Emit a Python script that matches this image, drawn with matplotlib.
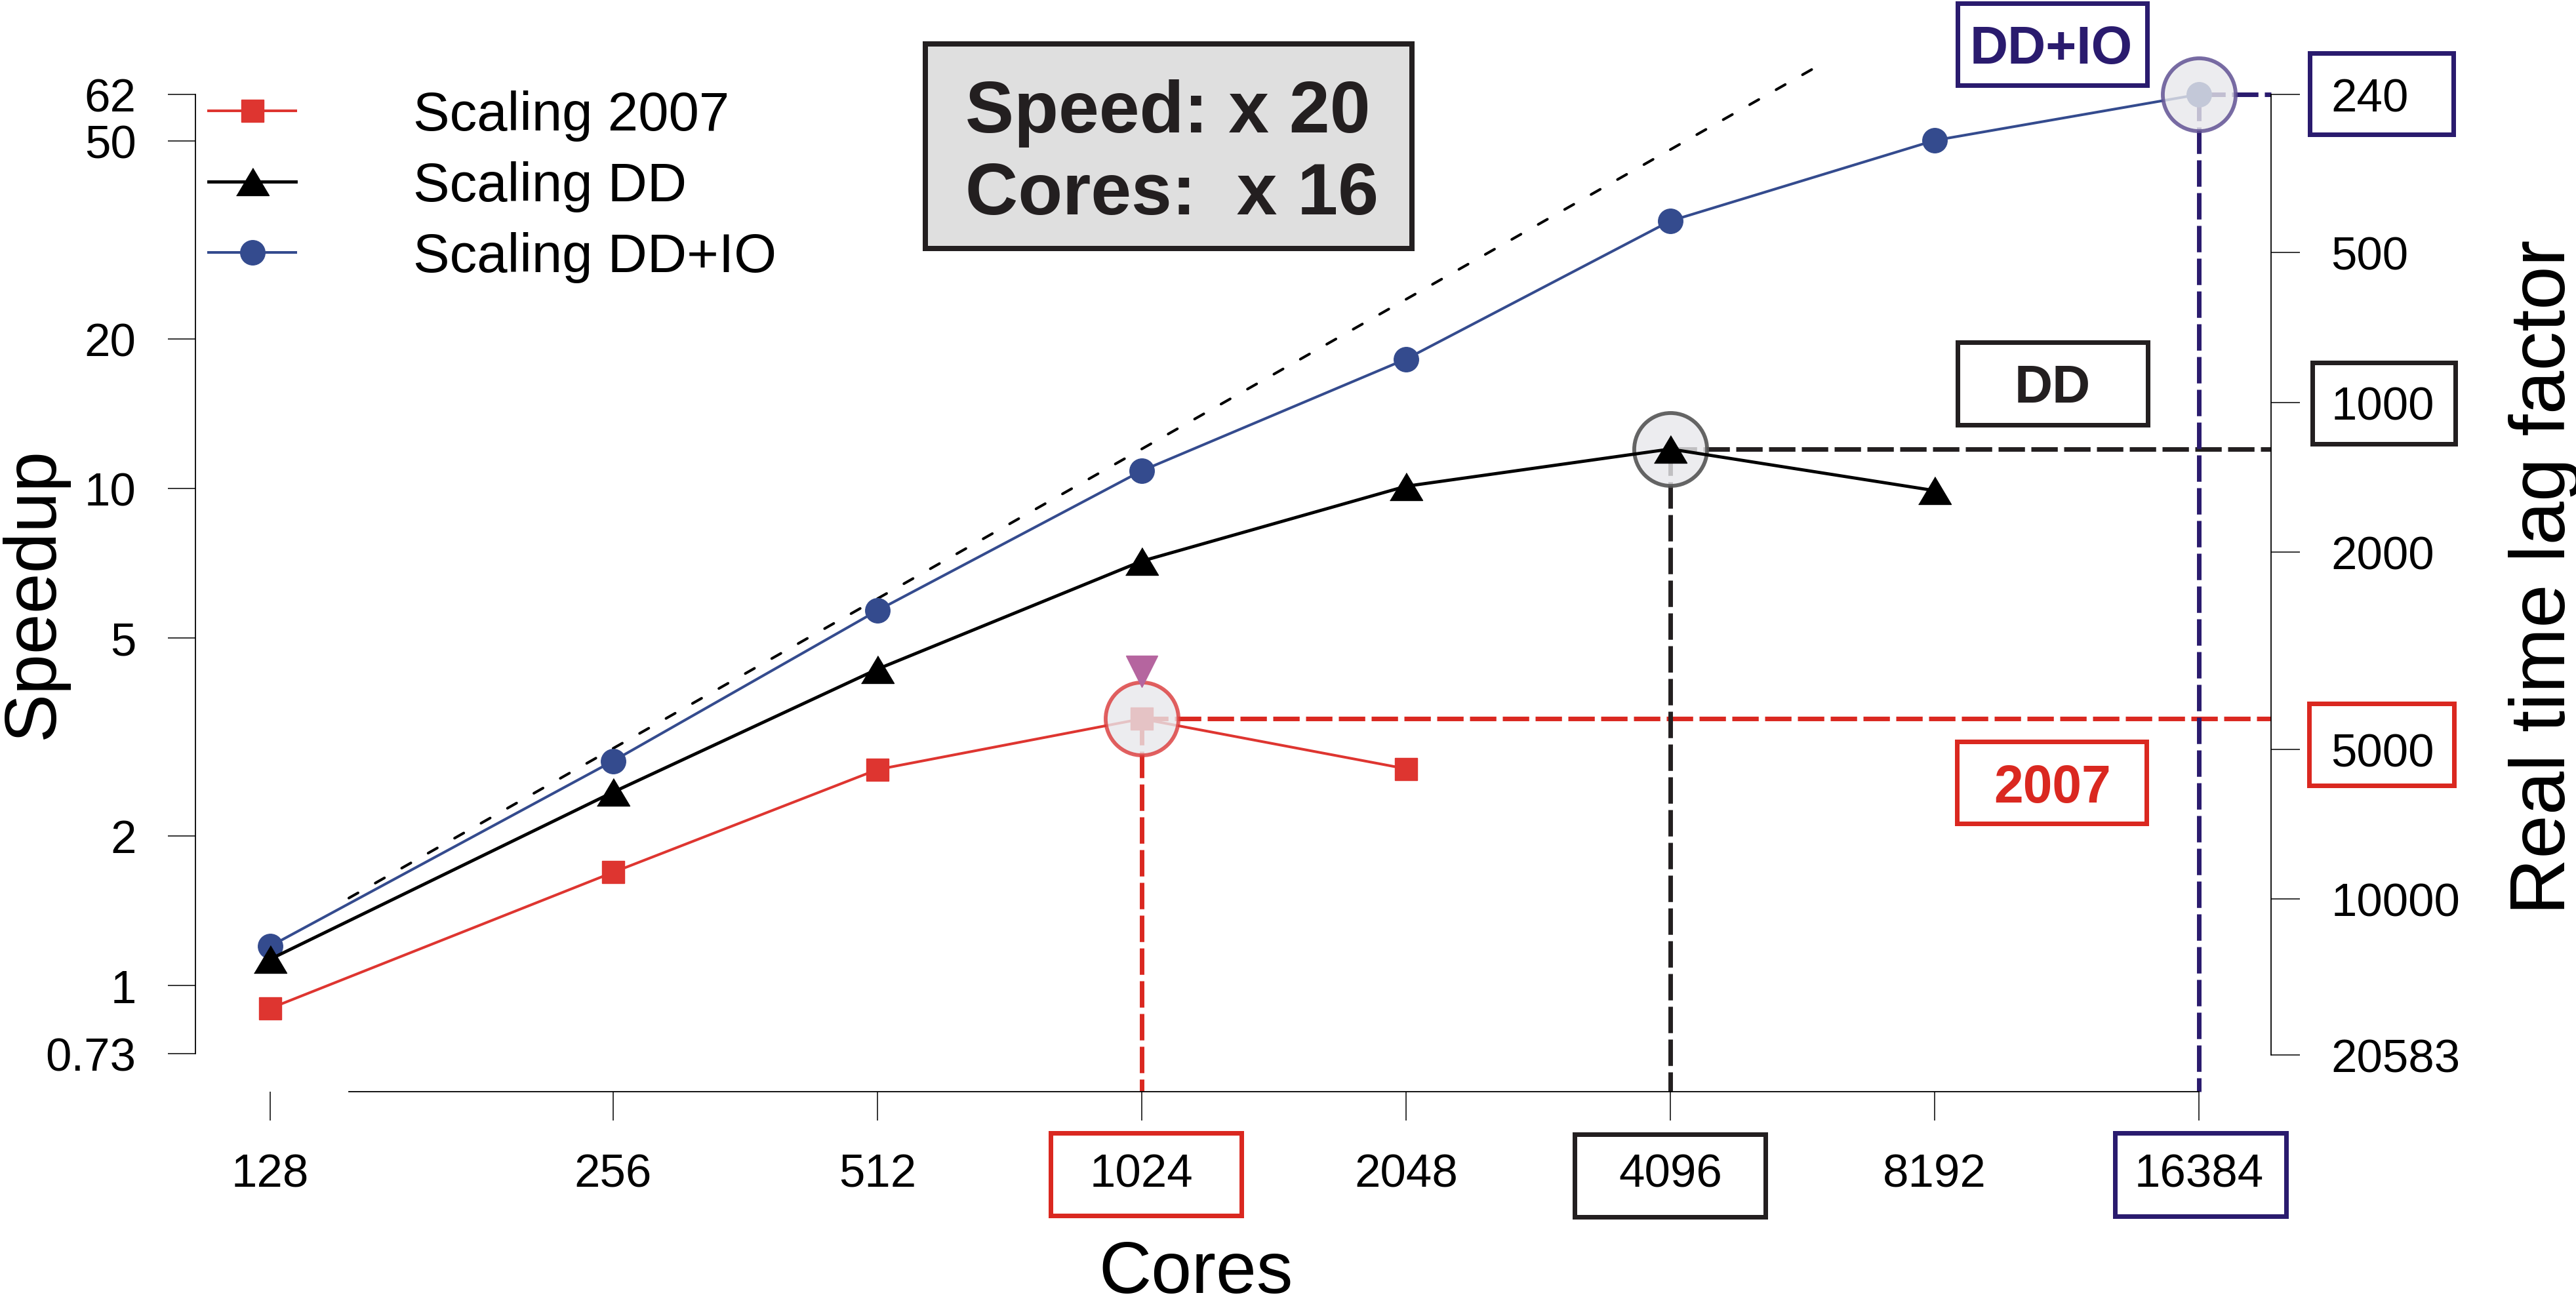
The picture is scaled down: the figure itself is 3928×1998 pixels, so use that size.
import matplotlib.pyplot as plt
from matplotlib.patches import Rectangle
from matplotlib.ticker import NullLocator
from matplotlib.transforms import offset_copy

plt.rcParams['font.family'] = ['Liberation Sans', 'DejaVu Sans']

# data
cores = [128, 256, 512, 1024, 2048, 4096, 8192, 16384]
speedup_2007 = [0.90, 1.69, 2.72, 3.44, 2.73]
speedup_dd = [1.13, 2.45, 4.33, 7.14, 10.1, 12.0, 9.9]
speedup_ddio = [1.2, 2.83, 5.68, 10.85, 18.2, 34.5, 50.1, 62]
ideal_cores = [128, 6100]
ideal_speedup = [1.5, 71.5]
speedup_ticks = [0.73, 1, 2, 5, 10, 20, 50, 62]
lag_ticks = [240, 500, 1000, 2000, 5000, 10000, 20583]
LAG_CONST = 14950  # lag factor = LAG_CONST / speedup

RED = '#DE3530'
BLUE = '#344B8E'
BLACK = '#000000'
RED_HL = '#DA2820'
BLACK_HL = '#231F20'
NAVY_HL = '#2A1B6E'

W, H = 3928, 1999


def xpos(c):
    """128 sits left of the axis break"""
    return c * 2 ** -0.298 if c == cores[0] else c


def px_box(x0, y0, x1, y1, edge, lw_px, face='white', z=1):
    """Rectangle given in figure pixels (outer edge)"""
    i = lw_px / 2
    fig.add_artist(Rectangle(((x0 + i) / W, 1 - (y1 - i) / H),
                             (x1 - x0 - lw_px) / W, (y1 - y0 - lw_px) / H,
                             transform=fig.transFigure, facecolor=face,
                             edgecolor=edge, lw=lw_px * 0.72, zorder=z))


def px_text(x, y, s, **kw):
    fig.text(x / W, 1 - y / H, s, zorder=3, **kw)


fig = plt.figure(figsize=(W / 100, H / 100), dpi=100)
ax = fig.add_axes([298 / W, 1 - 1666 / H, (3463 - 298) / W, (1666 - 145) / H])
ax.set_xscale('log', base=2)
ax.set_yscale('log')
ax.set_xlim(85.6, 19800)
ax.set_ylim(0.612, 62)

# ideal scaling
ax.plot(ideal_cores, ideal_speedup, color=BLACK, lw=2.9,
        ls=(0, (4, 7.5)), dash_capstyle='round', zorder=2, clip_on=False)

tri = [(-1, -0.84), (1, -0.84), (0, 0.84)]
l07, = ax.plot([xpos(c) for c in cores[:len(speedup_2007)]], speedup_2007,
               color=RED, lw=2.9, marker='s', ms=25, label='Scaling 2007', zorder=3)
lio, = ax.plot([xpos(c) for c in cores[:len(speedup_ddio)]], speedup_ddio,
               color=BLUE, lw=2.9, marker='o', ms=27, label='Scaling DD+IO',
               zorder=3, clip_on=False)
ldd, = ax.plot([xpos(c) for c in cores[:len(speedup_dd)]], speedup_dd,
               color=BLACK, lw=3.5, marker=tri, ms=36, label='Scaling DD', zorder=6)

# best point of each series: circle and dashed guides
xmax = ax.get_xlim()[1]
ymin = ax.get_ylim()[0]
highlights = [(speedup_2007, RED_HL, (0.86, 0.22, 0.22, 0.8)),
              (speedup_dd, BLACK_HL, (0.33, 0.33, 0.33, 0.9)),
              (speedup_ddio, NAVY_HL, (0.38, 0.32, 0.58, 0.85))]
for series, col, edge in highlights:
    i = series.index(max(series))
    c, v = cores[i], series[i]
    ax.plot([c, xmax], [v, v], color=col, lw=5, ls=(0, (5.8, 1.4)),
            dash_capstyle='butt', zorder=2.5, clip_on=False)
    ax.plot([c, c], [v, ymin], color=col, lw=5, ls=(0, (5.8, 1.4)),
            dash_capstyle='butt', zorder=2.5, clip_on=False)
    ax.plot([c], [v], marker='o', ms=80, mfc=(0.91, 0.91, 0.92, 0.8),
            mec=edge, mew=4.2, ls='none', zorder=5, clip_on=False)

# marker above the 2007 peak
i07 = speedup_2007.index(max(speedup_2007))
above = offset_copy(ax.transData, fig=fig, x=0, y=72, units='dots')
ax.plot([cores[i07]], [speedup_2007[i07]], marker='v', ms=34, color='#B5659F',
        ls='none', transform=above, zorder=6, clip_on=False)

# axes styling
for side in ['top', 'right']:
    ax.spines[side].set_visible(False)
ax.spines['left'].set_bounds(speedup_ticks[0], speedup_ticks[-1])
ax.spines['bottom'].set_bounds(cores[0], cores[-1])
ax.spines['left'].set_linewidth(1.3)
ax.spines['bottom'].set_linewidth(1.3)
ax.xaxis.set_minor_locator(NullLocator())
ax.yaxis.set_minor_locator(NullLocator())
ax.set_xticks([xpos(c) for c in cores])
ax.set_xticklabels([str(c) for c in cores])
ax.set_yticks(speedup_ticks)
ax.set_yticklabels([f'{v:g}' for v in speedup_ticks])
ax.tick_params(axis='x', direction='out', length=32, width=1.1, pad=35, labelsize=51)
ax.tick_params(axis='y', direction='out', length=30, width=1.1, pad=35, labelsize=51)

ax2 = ax.twinx()
ax2.set_yscale('log')
ax2.set_ylim(ax.get_ylim())
for side in ['top', 'left', 'bottom']:
    ax2.spines[side].set_visible(False)
ax2.spines['right'].set_bounds(LAG_CONST / lag_ticks[-1], LAG_CONST / lag_ticks[0])
ax2.spines['right'].set_linewidth(1.3)
ax2.yaxis.set_minor_locator(NullLocator())
ax2.set_yticks([LAG_CONST / l for l in lag_ticks])
ax2.set_yticklabels([str(l) for l in lag_ticks])
ax2.tick_params(axis='y', direction='out', length=32, width=1.1, pad=34, labelsize=51)

ax.legend(handles=[l07, ldd, lio], loc='upper left',
          bbox_to_anchor=(318 / W, 1 - 138 / H), bbox_transform=fig.transFigure,
          frameon=False, fontsize=60, handlelength=1.6, handletextpad=2.15,
          labelspacing=0.36, borderpad=0, borderaxespad=0)

# axis titles
px_text(52, 905, 'Speedup', rotation=90, fontsize=80, ha='center', va='center')
px_text(3880, 880, 'Real time lag factor', rotation=90, fontsize=86,
        ha='center', va='center')
px_text(1824, 1972, 'Cores', fontsize=80, ha='center', va='baseline')

# summary box
px_box(1407, 64, 2157, 384, '#231F20', 8, face='#DFDFDF')
px_text(1472, 202, 'Speed: x 20', fontsize=80, weight='bold', color='#231F20',
        va='baseline')
px_text(1472, 327, 'Cores:  x 16', fontsize=80, weight='bold', color='#231F20',
        va='baseline')

# series tags
px_box(2981, 2, 3277, 134, NAVY_HL, 7)
px_text(3128, 97, 'DD+IO', fontsize=58, weight='bold', color=NAVY_HL,
        ha='center', va='baseline')
px_box(2981, 519, 3278, 652, BLACK_HL, 7)
px_text(3130, 614, 'DD', fontsize=58, weight='bold', color=BLACK_HL,
        ha='center', va='baseline')
px_box(2980, 1128, 3276, 1260, RED_HL, 7)
px_text(3130, 1224, '2007', fontsize=58, weight='bold', color=RED_HL,
        ha='center', va='baseline')

# boxes round the highlighted tick labels
px_box(1598, 1725, 1896, 1858, RED_HL, 7, face='none')
px_box(2397, 1727, 2695, 1860, BLACK_HL, 7, face='none')
px_box(3221, 1725, 3489, 1859, NAVY_HL, 7, face='none')
px_box(3518, 78, 3744, 209, NAVY_HL, 7, face='none')
px_box(3522, 550, 3747, 681, BLACK_HL, 7, face='none')
px_box(3517, 1070, 3745, 1202, RED_HL, 7, face='none')

fig.savefig('out.png', dpi=100)
